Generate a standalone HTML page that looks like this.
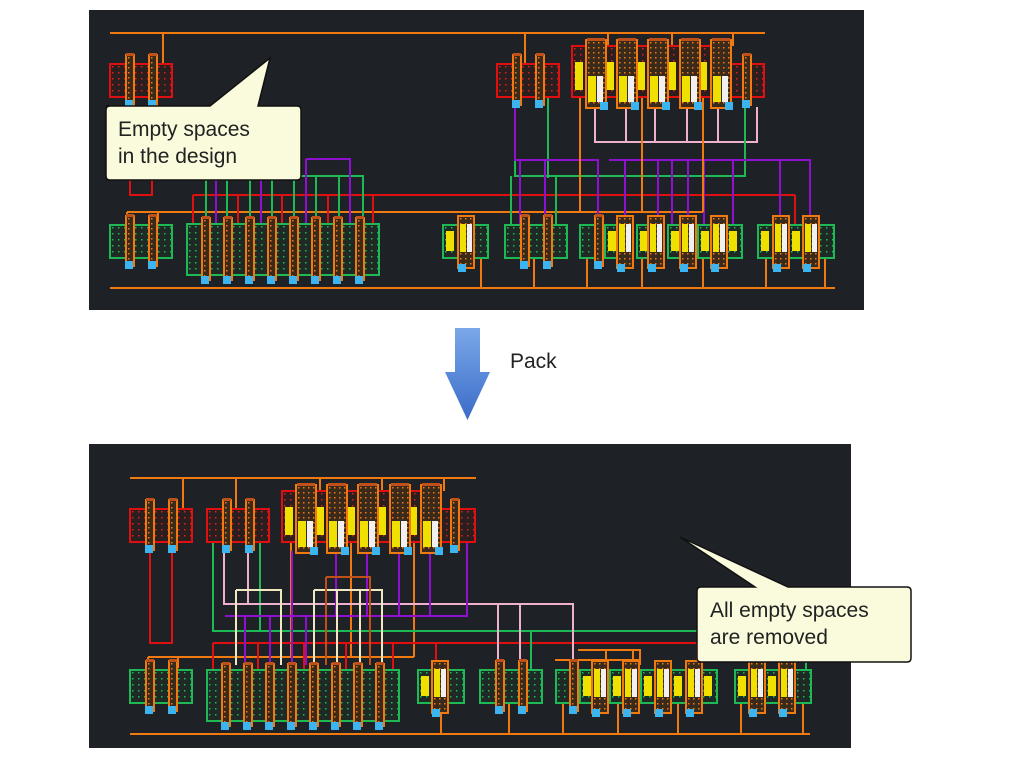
<!DOCTYPE html>
<html><head><meta charset="utf-8"><style>
html,body{margin:0;padding:0;background:#fff;}
svg{display:block;}
.t{font-family:"Liberation Sans",sans-serif;}
</style></head><body>
<svg width="1013" height="759" viewBox="0 0 1013 759" xmlns="http://www.w3.org/2000/svg">
<defs>
<pattern id="gd" width="6" height="6" patternUnits="userSpaceOnUse"><rect width="6" height="6" fill="#1f2a26"/><rect x="2" y="2" width="1.5" height="1.5" fill="#1db954"/></pattern>
<pattern id="rd" width="6" height="6" patternUnits="userSpaceOnUse"><rect width="6" height="6" fill="#2a1e1e"/><rect x="2" y="2" width="1.5" height="1.5" fill="#e02020"/></pattern>
<pattern id="od" width="5" height="5" patternUnits="userSpaceOnUse"><rect width="5" height="5" fill="#3a2a1c"/><rect x="2" y="2" width="1.5" height="1.5" fill="#f07a10"/></pattern>
<g id="gb"><rect width="16" height="33" fill="url(#gd)" stroke="#1db954" stroke-width="2"/></g>
<g id="rb"><rect width="16" height="33" fill="url(#rd)" stroke="#e01010" stroke-width="2"/></g>
<g id="gt"><rect width="8" height="50" fill="url(#od)" stroke="#f07a10" stroke-width="2"/><rect x="0" y="-2" width="8" height="3" fill="#c0501a"/><rect x="-1" y="45" width="8" height="8" fill="#3cb4f0"/></g>
<g id="gpair"><use href="#gb"/><use href="#gb" x="23"/><use href="#gb" x="46"/><use href="#gt" x="16" y="-9"/><use href="#gt" x="39" y="-9"/></g>
<g id="rpair"><use href="#rb"/><use href="#rb" x="23"/><use href="#rb" x="46"/><use href="#gt" x="16" y="-9"/><use href="#gt" x="39" y="-9"/></g>
<g id="gbig"><rect width="16" height="51" fill="url(#gd)" stroke="#1db954" stroke-width="2"/></g>
<g id="gtb"><rect width="8" height="62" fill="url(#od)" stroke="#f07a10" stroke-width="2"/><rect x="0" y="-2" width="8" height="3" fill="#c0501a"/><rect x="-1" y="58" width="8" height="8" fill="#3cb4f0"/></g>
<g id="big"><use href="#gbig"/><use href="#gbig" x="22"/><use href="#gbig" x="44"/><use href="#gbig" x="66"/><use href="#gbig" x="88"/><use href="#gbig" x="110"/><use href="#gbig" x="132"/><use href="#gbig" x="154"/><use href="#gbig" x="176"/>
<use href="#gtb" x="15" y="-6"/><use href="#gtb" x="37" y="-6"/><use href="#gtb" x="59" y="-6"/><use href="#gtb" x="81" y="-6"/><use href="#gtb" x="103" y="-6"/><use href="#gtb" x="125" y="-6"/><use href="#gtb" x="147" y="-6"/><use href="#gtb" x="169" y="-6"/></g>
<g id="wg"><rect width="16" height="52" fill="url(#od)" stroke="#f07a10" stroke-width="2"/><rect x="2" y="8" width="6" height="28" fill="#f0e000"/><rect x="9" y="8" width="5" height="28" fill="#f0f0f0"/><rect x="0" y="48" width="8" height="8" fill="#3cb4f0"/></g>
<g id="labg"><use href="#gb"/><rect x="3" y="6" width="8" height="20" fill="#f0e000"/></g>
<g id="redbig"><use href="#rb" y="-18" transform="scale(1,1)"/></g>
<g id="rtop"><rect width="16" height="51" fill="url(#rd)" stroke="#e01010" stroke-width="2"/><rect x="3" y="16" width="8" height="28" fill="#f0e000"/></g>
<g id="rgate"><rect width="20" height="68" fill="url(#od)" stroke="#f07a10" stroke-width="2"/><rect x="1" y="-2" width="18" height="3" fill="#c0501a"/><rect x="2" y="36" width="8" height="26" fill="#f0e000"/><rect x="11" y="36" width="6" height="26" fill="#f0f0f0"/><rect x="14" y="62" width="8" height="8" fill="#3cb4f0"/></g>
<linearGradient id="ag" x1="0" y1="0" x2="0" y2="1"><stop offset="0" stop-color="#7aa8e8"/><stop offset="1" stop-color="#3a6cc8"/></linearGradient>
</defs>

<!-- ================= TOP PANEL ================= -->
<rect x="89" y="10" width="775" height="300" fill="#1e2126"/>
<g fill="none" stroke-width="2">
<line x1="110" y1="33" x2="765" y2="33" stroke="#f07a10"/>
<line x1="163" y1="33" x2="163" y2="64" stroke="#f07a10"/>
<line x1="525" y1="33" x2="525" y2="64" stroke="#f07a10"/>
<line x1="608" y1="33" x2="608" y2="46" stroke="#f07a10"/>
<line x1="672" y1="33" x2="672" y2="46" stroke="#f07a10"/>
<line x1="733" y1="33" x2="733" y2="46" stroke="#f07a10"/>
<line x1="110" y1="288" x2="835" y2="288" stroke="#f07a10"/>
<line x1="127" y1="212" x2="703" y2="212" stroke="#f07a10"/>
<line x1="127" y1="212" x2="127" y2="222" stroke="#f07a10"/>
<line x1="158" y1="212" x2="158" y2="222" stroke="#f07a10"/>
<line x1="193" y1="195" x2="795" y2="195" stroke="#e01010"/>
<path d="M193 195V224M238 195V224M282 195V224M328 195V224M373 195V224M795 195V224" stroke="#e01010"/>
<path d="M130 170V195H152V170" stroke="#e01010"/>
<path d="M206 176H363V224M206 176V224M227 176V224M250 176V224M272 176V224M294 176V224M316 176V224M339 176V224" stroke="#1db954"/>
<path d="M306 159H350V224M306 159V224M216 170V224M261 170V224" stroke="#9010d0"/>
<!-- right nets -->
<path d="M595 107V142H757V107M626 107V142M655 107V142M687 107V142M718 107V142" stroke="#f0b0d0"/>
<path d="M515 97V176H745V107M548 97V178M511 176V224M556 176V224" stroke="#1db954"/>
<path d="M515 107V160H598V224M520 160V224M545 160V224M609 160H810V224M625 160V224M658 160V224M672 160V224M688 160V224M704 160V224M733 160V224M780 160V224" stroke="#9010d0"/>
<path d="M580 97V212M642 97V212M703 97V212" stroke="#f07a10"/>
<path d="M534 258V288M587 258V288M642 258V288M703 258V288M766 258V288M825 258V288M481 258V288" stroke="#f07a10"/>
</g>
<use href="#rpair" x="110" y="64"/>
<use href="#gpair" x="110" y="225"/>
<use href="#big" x="187" y="224"/>
<use href="#gpair" x="505" y="225"/>
<use href="#rpair" x="497" y="64"/>
<!-- top right red multi -->
<g>
<use href="#rtop" x="572" y="46"/><use href="#rtop" x="603" y="46"/><use href="#rtop" x="634" y="46"/><use href="#rtop" x="665" y="46"/><use href="#rtop" x="696" y="46"/>
<use href="#rb" x="728" y="64"/><use href="#rb" x="748" y="64"/>
<use href="#rgate" x="586" y="40"/><use href="#rgate" x="617" y="40"/><use href="#rgate" x="648" y="40"/><use href="#rgate" x="680" y="40"/><use href="#rgate" x="711" y="40"/>
<use href="#gt" x="743" y="55"/>
</g>
<!-- small labelled cell -->
<use href="#labg" x="443" y="225"/><use href="#gb" x="472" y="225"/><use href="#wg" x="458" y="216"/>
<!-- right bottom labelled -->
<g>
<use href="#gb" x="580" y="225"/><use href="#labg" x="605" y="225"/><use href="#labg" x="637" y="225"/><use href="#labg" x="668" y="225"/><use href="#labg" x="698" y="225"/><use href="#labg" x="726" y="225"/>
<use href="#wg" x="617" y="216"/><use href="#wg" x="648" y="216"/><use href="#wg" x="680" y="216"/><use href="#wg" x="711" y="216"/>
<use href="#gt" x="595" y="216"/>
<use href="#labg" x="758" y="225"/><use href="#labg" x="789" y="225"/><use href="#gb" x="818" y="225"/>
<use href="#wg" x="773" y="216"/><use href="#wg" x="803" y="216"/>
</g>
<!-- callout top -->
<path d="M106 106H210L270 58L258 106H297Q301 106 301 110V176Q301 180 297 180H110Q106 180 106 176V110Q106 106 110 106Z" fill="#fafadc" stroke="#111" stroke-width="1.5"/>
<text x="118" y="136" class="t" font-size="21" fill="#222">Empty spaces</text>
<text x="118" y="163" class="t" font-size="21" fill="#222">in the design</text>

<!-- arrow -->
<path d="M455 328H480V372H490L467.5 420L445 372H455Z" fill="url(#ag)"/>
<text x="510" y="368" class="t" font-size="21" fill="#222">Pack</text>

<!-- ================= BOTTOM PANEL ================= -->
<rect x="89" y="444" width="762" height="304" fill="#1e2126"/>
<g fill="none" stroke-width="2">
<line x1="130" y1="478" x2="476" y2="478" stroke="#f07a10"/>
<path d="M183 478V509M236 478V509M320 478V491M382 478V491M444 478V491" stroke="#f07a10"/>
<line x1="130" y1="734" x2="810" y2="734" stroke="#f07a10"/>
<line x1="148" y1="657" x2="414" y2="657" stroke="#f07a10"/>
<path d="M148 657V668M178 657V668M291 542V657M351 542V657M414 542V657" stroke="#f07a10"/>
<path d="M150 551V643H172V551" stroke="#e01010"/>
<path d="M213 643H697M213 643V670M258 643V670M304 643V670M346 643V670M393 643V670M436 643V670M697 643V660" stroke="#e01010"/>
<path d="M213 542V631H807M260 542V631M806 631V670M531 631V670" stroke="#1db954"/>
<path d="M224 551V604H573V665M248 551V604M498 604V665M520 604V665" stroke="#f0b0d0"/>
<path d="M306 616V665M306 616H292V551M306 616H467V542M336 551V616M367 551V616M399 551V616M430 551V616" stroke="#9010d0"/>
<path d="M225 616H292V665M245 616V665M270 616V665" stroke="#9010d0"/>
<path d="M236 590H281V665M236 590V665M314 590H382V665M314 590V665M337 590V665M360 590V665" stroke="#f0e8c0"/>
<path d="M326 577H370V665M326 577V665" stroke="#c0501a"/>
<path d="M555 660H640M578 650H640V665M606 650V660M633 650V660" stroke="#f07a10"/>
<path d="M441 703V734M509 703V734M563 703V734M618 703V734M678 703V734M741 703V734M803 703V734" stroke="#f07a10"/>
</g>
<use href="#rpair" x="130" y="509"/>
<use href="#rpair" x="207" y="509"/>
<g>
<use href="#rtop" x="282" y="491"/><use href="#rtop" x="313" y="491"/><use href="#rtop" x="344" y="491"/><use href="#rtop" x="375" y="491"/><use href="#rtop" x="406" y="491"/>
<use href="#rb" x="438" y="509"/><use href="#rb" x="459" y="509"/>
<use href="#rgate" x="296" y="485"/><use href="#rgate" x="327" y="485"/><use href="#rgate" x="358" y="485"/><use href="#rgate" x="390" y="485"/><use href="#rgate" x="421" y="485"/>
<use href="#gt" x="451" y="500"/>
</g>
<use href="#gpair" x="130" y="670"/>
<use href="#big" x="207" y="670"/>
<use href="#labg" x="418" y="670"/><use href="#gb" x="448" y="670"/><use href="#wg" x="432" y="661"/>
<use href="#gpair" x="480" y="670"/>
<g>
<use href="#gb" x="556" y="670"/><use href="#labg" x="580" y="670"/><use href="#labg" x="610" y="670"/><use href="#labg" x="641" y="670"/><use href="#labg" x="671" y="670"/><use href="#labg" x="701" y="670"/>
<use href="#wg" x="592" y="661"/><use href="#wg" x="623" y="661"/><use href="#wg" x="655" y="661"/><use href="#wg" x="686" y="661"/>
<use href="#gt" x="570" y="661"/>
<use href="#labg" x="735" y="670"/><use href="#labg" x="765" y="670"/><use href="#gb" x="795" y="670"/>
<use href="#wg" x="749" y="661"/><use href="#wg" x="779" y="661"/>
</g>
<!-- callout bottom -->
<path d="M697 591Q697 587 701 587H755L680 537L788 587H907Q911 587 911 591V658Q911 662 907 662H701Q697 662 697 658Z" fill="#fafadc" stroke="#111" stroke-width="1.5"/>
<text x="710" y="617" class="t" font-size="21" fill="#222">All empty spaces</text>
<text x="710" y="644" class="t" font-size="21" fill="#222">are removed</text>
</svg>
</body></html>
